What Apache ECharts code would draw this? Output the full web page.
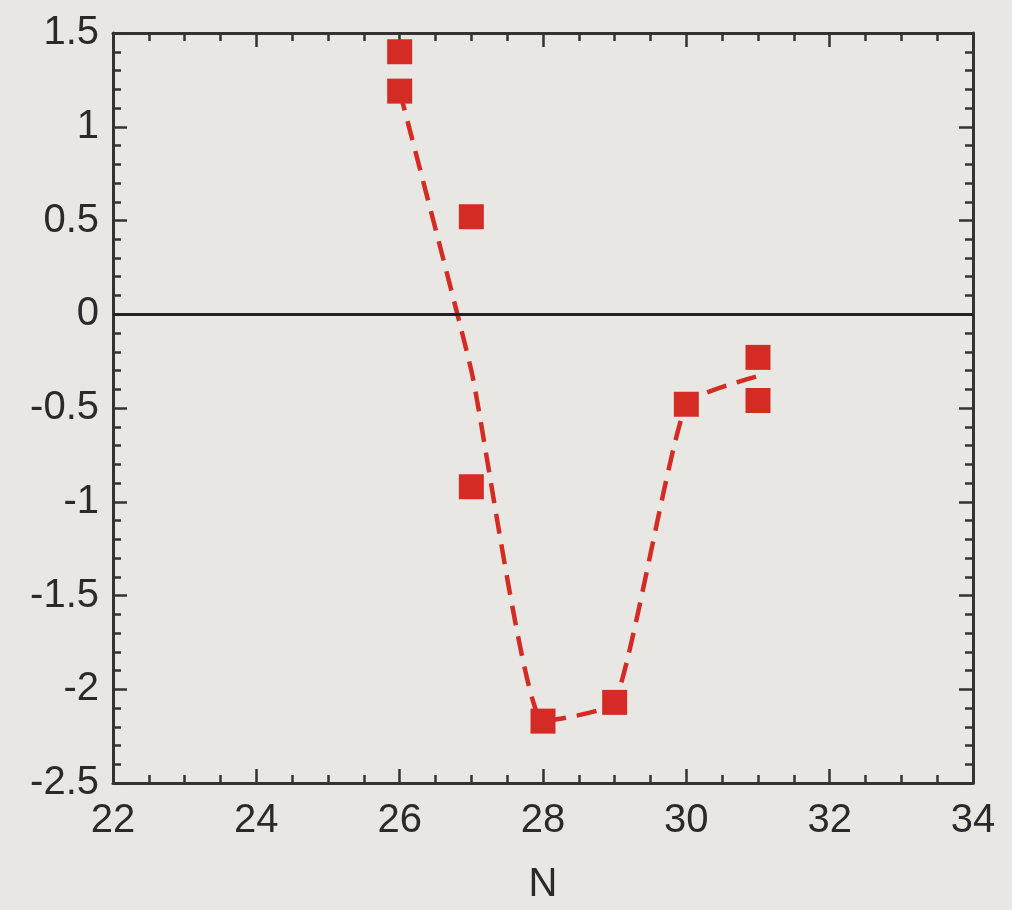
<!DOCTYPE html>
<html>
<head>
<meta charset="utf-8">
<script src="https://cdn.jsdelivr.net/npm/echarts@6/dist/echarts.min.js"></script>
<style>
html,body{margin:0;padding:0;background:#e9e7e3;}
#chart{width:1012px;height:910px;}
</style>
</head>
<body>
<div id="chart"></div>
<script>
// Measured points
const pointN = [26, 26, 27, 27, 28, 29, 30, 31, 31];
const pointV = [1.40, 1.19, 0.52, -0.92, -2.17, -2.07, -0.48, -0.23, -0.46];
// Dashed guide curve
const curveN = [26, 27, 28, 29, 30, 31];
const curveV = [1.19, -0.30, -2.17, -2.07, -0.48, -0.33];
const xMin = 22, xMax = 34, xStep = 2;
const yMin = -2.5, yMax = 1.5, yStep = 0.5;
const xTitle = 'N';

const font = '"Liberation Sans", Arial, sans-serif';
const axisCol = '#333';
const red = '#d42c24';
const textCol = '#2a2a2a';

const baseX = {
  type: 'value', min: xMin, max: xMax, interval: xStep,
  axisLine: {show: true, onZero: false, lineStyle: {color: axisCol, width: 3}},
  axisTick: {show: true, inside: true, length: 14, lineStyle: {color: axisCol, width: 2.5}},
  minorTick: {show: true, splitNumber: 4, length: 8, lineStyle: {color: axisCol, width: 2.5}},
  splitLine: {show: false}
};
const baseY = {
  type: 'value', min: yMin, max: yMax, interval: yStep,
  axisLine: {show: true, onZero: false, lineStyle: {color: axisCol, width: 3}},
  axisTick: {show: true, inside: true, length: 14, lineStyle: {color: axisCol, width: 2.5}},
  minorTick: {show: true, splitNumber: 5, length: 8, lineStyle: {color: axisCol, width: 2.5}},
  splitLine: {show: false}
};

const chart = echarts.init(document.getElementById('chart'), null, {renderer: 'canvas'});
chart.setOption({
  backgroundColor: '#e9e7e3',
  animation: false,
  grid: {left: 113, right: 39, top: 33, bottom: 125},
  xAxis: [
    Object.assign({}, baseX, {
      position: 'bottom',
      name: xTitle, nameLocation: 'middle', nameGap: 82,
      nameTextStyle: {fontFamily: font, fontSize: 40, color: textCol},
      axisLabel: {fontFamily: font, fontSize: 40, color: textCol, margin: 18}
    }),
    Object.assign({}, baseX, {position: 'top', axisLabel: {show: false}})
  ],
  yAxis: [
    Object.assign({}, baseY, {
      position: 'left',
      axisLabel: {fontFamily: font, fontSize: 40, color: textCol, margin: 14,
        formatter: v => String(v)}
    }),
    Object.assign({}, baseY, {position: 'right', axisLabel: {show: false}})
  ],
  series: [
    {
      type: 'line', xAxisIndex: 0, yAxisIndex: 0,
      data: curveN.map((n, i) => [n, curveV[i]]),
      smooth: 0.15, symbol: 'none',
      lineStyle: {color: red, width: 4.5, type: [20, 11]},
      markLine: {
        silent: true, symbol: 'none', label: {show: false},
        lineStyle: {color: '#222', width: 3, type: 'solid'},
        data: [{yAxis: 0}]
      },
      z: 2
    },
    {
      type: 'scatter', xAxisIndex: 0, yAxisIndex: 0,
      data: pointN.map((n, i) => [n, pointV[i]]),
      symbol: 'rect', symbolSize: 25,
      itemStyle: {color: red, opacity: 1},
      z: 3
    }
  ]
});
</script>
</body>
</html>
